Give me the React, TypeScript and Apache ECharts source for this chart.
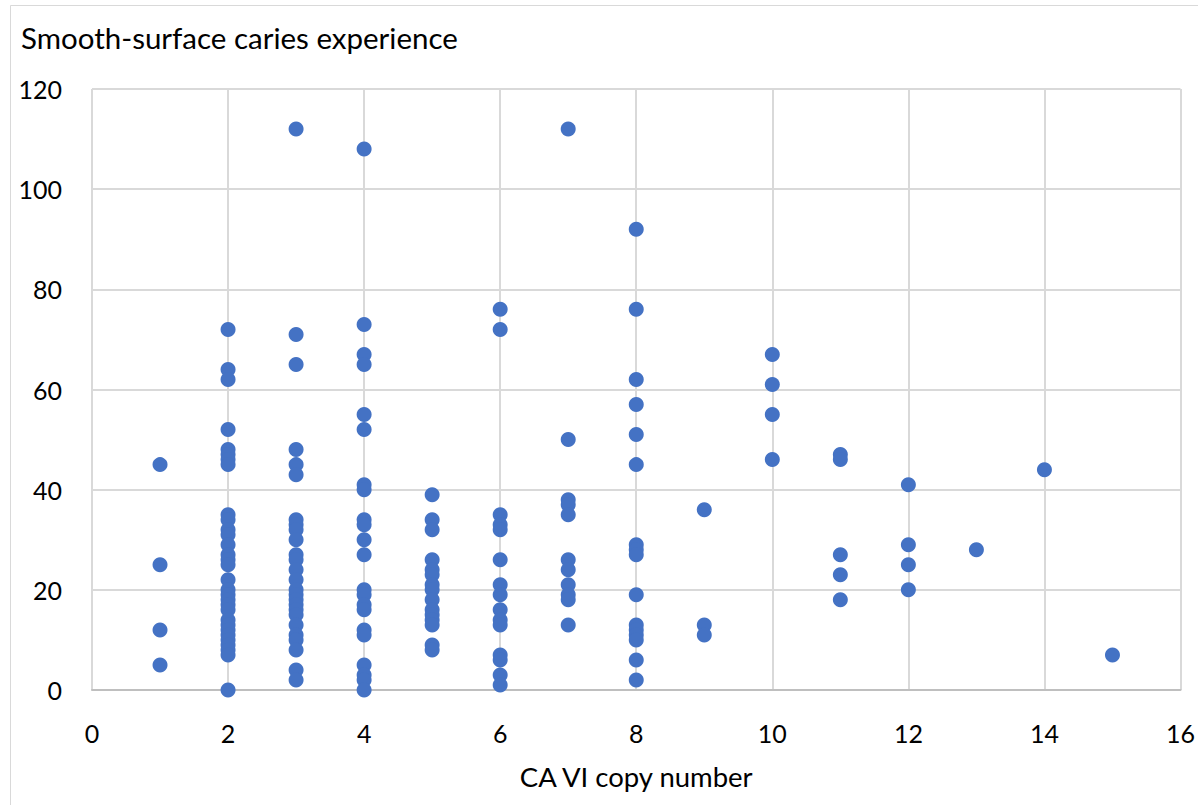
import React, { useEffect, useRef } from "react";
import * as echarts from "echarts";

const xTicks = [0, 2, 4, 6, 8, 10, 12, 14, 16];
const yTicks = [0, 20, 40, 60, 80, 100, 120];

const copy1 = [45, 25, 12, 5];
const copy2 = [72, 64, 62, 52, 48, 47, 46, 45, 35, 34, 32, 31, 29, 27, 26, 25, 22, 20, 19, 18, 17, 16, 14, 13, 12, 11, 10, 9, 8, 7, 0];
const copy3 = [112, 71, 65, 48, 45, 43, 34, 33, 32, 30, 27, 26, 24, 22, 20, 19, 18, 17, 16, 15, 13, 11, 10, 8, 4, 2];
const copy4 = [108, 73, 67, 65, 55, 52, 41, 40, 34, 33, 30, 27, 20, 19, 17, 16, 12, 11, 5, 3, 2, 0];
const copy5 = [39, 34, 32, 26, 24, 23, 21, 20, 18, 16, 15, 14, 13, 9, 8];
const copy6 = [76, 72, 35, 33, 32, 26, 21, 19, 16, 14, 13, 7, 6, 3, 1];
const copy7 = [112, 50, 38, 37, 35, 26, 24, 21, 19, 18, 13];
const copy8 = [92, 76, 62, 57, 51, 45, 29, 28, 27, 19, 13, 12, 11, 10, 6, 2];
const copy9 = [36, 13, 11];
const copy10 = [67, 61, 55, 46];
const copy11 = [47, 46, 27, 23, 18];
const copy12 = [41, 29, 25, 20];
const copy13 = [28];
const copy14 = [44];
const copy15 = [7];

const groups: [number, number[]][] = [
  [1, copy1], [2, copy2], [3, copy3], [4, copy4], [5, copy5],
  [6, copy6], [7, copy7], [8, copy8], [9, copy9], [10, copy10],
  [11, copy11], [12, copy12], [13, copy13], [14, copy14], [15, copy15],
];

const FONT = "Lato, 'Noto Sans', sans-serif";

export default function App() {
  const ref = useRef<HTMLDivElement>(null);
  useEffect(() => {
    if (!ref.current) return;
    const chart = echarts.init(ref.current, null, { renderer: "svg" });
    const points: number[][] = [];
    groups.forEach(([x, ys]) => ys.forEach((y) => points.push([x, y])));
    chart.setOption({
      animation: false,
      backgroundColor: "#ffffff",
      textStyle: { fontFamily: FONT },
      title: {
        text: "Smooth-surface caries experience",
        left: 16,
        top: 17,
        textStyle: { fontFamily: FONT, fontSize: 29.5, fontWeight: "normal", color: "#000000" },
      },
      graphic: [
        {
          type: "rect",
          shape: { x: 10.5, y: 5.5, width: 1200, height: 820 },
          style: { fill: "none", stroke: "#d9d9d9", lineWidth: 1 },
          silent: true,
        },
      ],
      grid: { left: 92, right: 14, top: 89, bottom: 115, containLabel: false },
      xAxis: {
        type: "value",
        min: xTicks[0],
        max: xTicks[xTicks.length - 1],
        interval: 2,
        name: "CA VI copy number",
        nameLocation: "middle",
        nameGap: 72,
        nameTextStyle: { fontFamily: FONT, fontSize: 27.5, color: "#000000" },
        axisLine: { show: true, lineStyle: { color: "#bfbfbf", width: 2 } },
        axisTick: { show: false },
        axisLabel: { fontFamily: FONT, fontSize: 25, color: "#000000", margin: 30 },
        splitLine: { show: true, lineStyle: { color: "#d9d9d9", width: 2 } },
      },
      yAxis: {
        type: "value",
        min: yTicks[0],
        max: yTicks[yTicks.length - 1],
        interval: 20,
        axisLine: { show: false },
        axisTick: { show: false },
        axisLabel: { fontFamily: FONT, fontSize: 25, color: "#000000", margin: 30 },
        splitLine: { show: true, lineStyle: { color: "#d9d9d9", width: 2 } },
      },
      series: [
        {
          type: "scatter",
          data: points,
          symbol: "circle",
          symbolSize: 15,
          itemStyle: { color: "#4472C4", opacity: 1 },
        },
      ],
    });
    return () => chart.dispose();
  }, []);
  return (
    <div
      ref={ref}
      style={{ position: "fixed", left: 0, top: 0, width: 1198, height: 805 }}
    />
  );
}
